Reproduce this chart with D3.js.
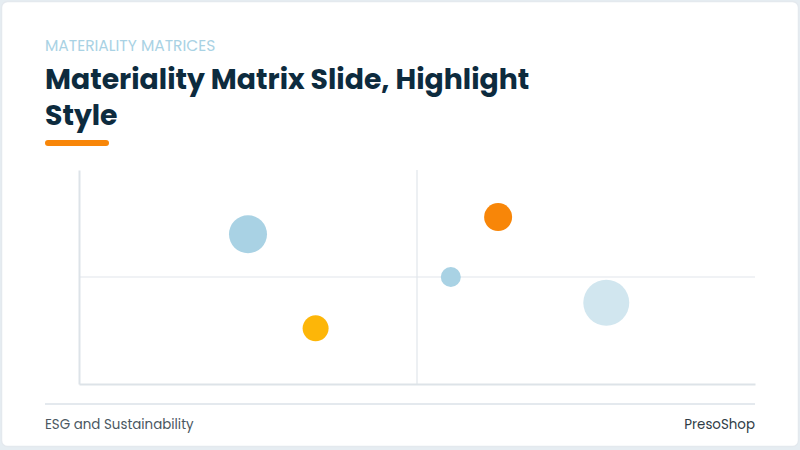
<!DOCTYPE html>
<html><head><meta charset="utf-8">
<script src="https://cdn.jsdelivr.net/npm/d3@7"></script>
<style>html,body{margin:0;padding:0;background:#fff;}svg{display:block;}</style>
</head><body>
<svg id="chart" width="800" height="450"></svg>
<script>
const topics = ["Topic A","Topic B","Topic C","Topic D","Topic E"];
const impact = [2.5, 6.2, 5.5, 7.8, 3.5];       // x: business impact
const concern = [7.0, 7.8, 5.0, 3.8, 2.6];      // y: stakeholder concern
const weight = [361, 196, 100, 529, 169];       // bubble size
const colors = ["#a9d2e4", "#f88608", "#a9d2e4", "#d1e6ef", "#fdb608"];

const svg = d3.select("#chart");
const W = 800, H = 450;
const m = {left: 79, right: 755, top: 170, bottom: 384};

svg.append("rect").attr("x",0).attr("y",0).attr("width",W).attr("height",H).attr("fill","#e6edf2");
svg.append("rect").attr("x",1.5).attr("y",1.5).attr("width",W-3).attr("height",H-5)
  .attr("rx",6).attr("fill","#fff").attr("stroke","#e4e9ee").attr("stroke-width",1.5);

svg.append("text").attr("x",45).attr("y",51).text("MATERIALITY MATRICES")
  .attr("font-family","Poppins, Inter, 'Open Sans', sans-serif").attr("font-size",15.5)
  .attr("fill","#a9d2e4");
const titleLines = ["Materiality Matrix Slide, Highlight","Style"];
svg.selectAll("text.title").data(titleLines).join("text").attr("class","title")
  .attr("x",45).attr("y",(d,i)=>89+i*36).text(d=>d)
  .attr("font-family","Poppins, Inter, sans-serif").attr("font-weight",700)
  .attr("font-size",28.3).attr("fill","#0d2b3e");
svg.append("rect").attr("x",45).attr("y",140).attr("width",64).attr("height",6)
  .attr("rx",3).attr("fill","#f88608");

const x = d3.scaleLinear().domain([0,10]).range([m.left,m.right]);
const y = d3.scaleLinear().domain([0,10]).range([m.bottom,m.top]);
const r = d3.scaleSqrt().domain([0,529]).range([0,23]);

const g = svg.append("g");
g.append("line").attr("x1",x(5)).attr("x2",x(5)).attr("y1",y(10)).attr("y2",y(0))
  .attr("stroke","#e1e6eb").attr("stroke-width",1.2);
g.append("line").attr("x1",x(0)).attr("x2",x(10)).attr("y1",y(5)).attr("y2",y(5))
  .attr("stroke","#e1e6eb").attr("stroke-width",1.2);

const xAxis = g.append("g").attr("transform",`translate(0,${y(0)})`)
  .call(d3.axisBottom(x).tickValues([]).tickSizeOuter(0));
const yAxis = g.append("g").attr("transform",`translate(${x(0)},0)`)
  .call(d3.axisLeft(y).tickValues([]).tickSizeOuter(0));
[xAxis,yAxis].forEach(a=>a.select(".domain").attr("stroke","#dde3e8").attr("stroke-width",2));

g.selectAll("circle").data(topics).join("circle")
  .attr("cx",(d,i)=>x(impact[i])).attr("cy",(d,i)=>y(concern[i]))
  .attr("r",(d,i)=>r(weight[i])).attr("fill",(d,i)=>colors[i]);

svg.append("line").attr("x1",45).attr("x2",755).attr("y1",404).attr("y2",404)
  .attr("stroke","#e4e9ee").attr("stroke-width",2);
svg.append("text").attr("x",45).attr("y",429).text("ESG and Sustainability")
  .attr("font-family","Poppins, Inter, sans-serif").attr("font-size",13.4).attr("fill","#4b5862");
svg.append("text").attr("x",755).attr("y",429).attr("text-anchor","end").text("PresoShop")
  .attr("font-family","Poppins, Inter, sans-serif").attr("font-size",13.4).attr("fill","#2f3c46");
</script>
</body></html>
